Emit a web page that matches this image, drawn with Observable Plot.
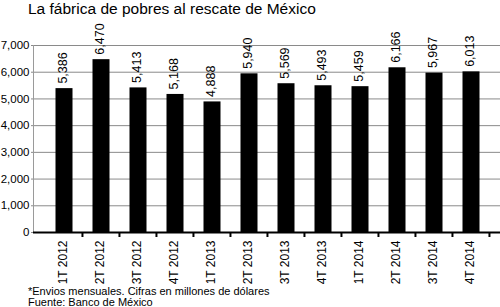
<!DOCTYPE html>
<html>
<head>
<meta charset="utf-8">
<script src="https://cdn.jsdelivr.net/npm/d3@7"></script>
<script src="https://cdn.jsdelivr.net/npm/@observablehq/plot@0.6"></script>
<style>
  html, body { margin: 0; padding: 0; background: #fff; }
  #wrap { position: relative; width: 500px; height: 307px; overflow: hidden; font-family: "Liberation Sans", Arial, Helvetica, sans-serif; }
  #title { position: absolute; left: 28px; top: 0px; font-size: 15.5px; line-height: 17px; color: #000; white-space: nowrap; z-index: 2; }
  #caption { position: absolute; left: 28px; top: 286px; font-size: 11px; line-height: 10.5px; color: #000; white-space: nowrap; z-index: 2; }
  #chart { position: absolute; left: 0; top: 0; }
</style>
</head>
<body>
<div id="wrap">
  <div id="title">La fábrica de pobres al rescate de México</div>
  <div id="chart"></div>
  <div id="caption">*Envios mensuales. Cifras en millones de dólares<br>Fuente: Banco de México</div>
</div>
<script>
const categories = ["1T 2012","2T 2012","3T 2012","4T 2012","1T 2013","2T 2013","3T 2013","4T 2013","1T 2014","2T 2014","3T 2014","4T 2014"];
const values = [5386, 6470, 5413, 5168, 4888, 5940, 5569, 5493, 5459, 6166, 5967, 6013];
const yTicks = [0, 1000, 2000, 3000, 4000, 5000, 6000, 7000];

const data = categories.map((c, i) => ({cat: c, value: values[i]}));

const W = 500, H = 307, mL = 33, mR = 0, mT = 45, mB = 75;
const step = (W - mL - mR) / categories.length;
const fmt = d3.format(",");
const font = "Liberation Sans, Arial, Helvetica, sans-serif";

const chart = Plot.plot({
  width: W,
  height: H,
  marginLeft: mL,
  marginRight: mR,
  marginTop: mT,
  marginBottom: mB,
  style: {fontFamily: font, background: "transparent", color: "#000"},
  x: {domain: categories, padding: 0.54, label: null},
  y: {domain: [0, 7000], label: null},
  marks: [
    Plot.ruleY(yTicks.filter(d => d > 0), {stroke: "#8a8a8a", strokeWidth: 1}),
    Plot.frame({anchor: "left", stroke: "#9a9a9a", strokeWidth: 1}),
    Plot.axisY({ticks: yTicks, tickFormat: fmt, tickSize: 2, tickPadding: 2, stroke: "#8a8a8a", fontSize: 11.5, label: null}),
    Plot.barY(data, {x: "cat", y: "value", fill: "#000", dx: 1.5}),
    Plot.text(data, {x: "cat", y: "value", text: d => fmt(d.value), rotate: -90, textAnchor: "start", lineAnchor: "middle", dy: -5, fontSize: 12.5, fill: "#000"}),
    Plot.ruleY([0], {stroke: "#000", strokeWidth: 2}),
    Plot.axisX({tickSize: 5, tickFormat: () => "", dx: step / 2, strokeWidth: 2, stroke: "#000", label: null}),
    Plot.axisX({tickSize: 0, tickPadding: 8, tickRotate: -90, fontSize: 12, label: null})
  ]
});
document.getElementById("chart").appendChild(chart);
</script>
</body>
</html>
